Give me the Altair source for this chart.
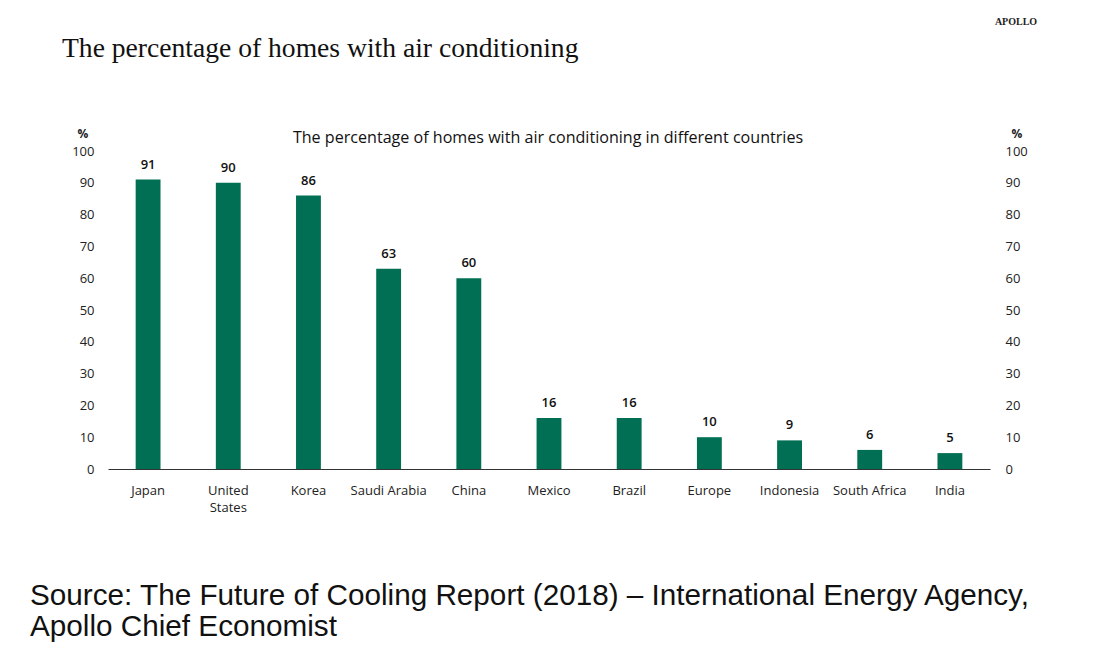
import altair as alt
import pandas as pd

countries = ["Japan", "United States", "Korea", "Saudi Arabia", "China", "Mexico",
             "Brazil", "Europe", "Indonesia", "South Africa", "India"]
values = [91, 90, 86, 63, 60, 16, 16, 10, 9, 6, 5]

main_title = "The percentage of homes with air conditioning"
inner_title = "The percentage of homes with air conditioning in different countries"
brand = "APOLLO"
source_lines = ["Source: The Future of Cooling Report (2018) \u2013 International Energy Agency,",
                "Apollo Chief Economist"]

df = pd.DataFrame({"country": countries, "value": values})

W, H = 882, 318
GREEN = "#006F53"
SANS = "Open Sans"

x_enc = alt.X("country:N", sort=countries, title=None,
              scale=alt.Scale(paddingInner=0.69, paddingOuter=0.345),
              axis=alt.Axis(labelAngle=0, ticks=False, domainColor="#333333", domainWidth=1.2,
                            labelFont=SANS, labelFontSize=13, labelColor="#222222",
                            labelPadding=15, labelLineHeight=17, grid=False,
                            labelExpr="datum.label == 'United States' ? ['United', 'States'] : datum.label"))

bars = alt.Chart(df).mark_bar(color=GREEN).encode(
    x=x_enc,
    y=alt.Y("value:Q", scale=alt.Scale(domain=[0, 100]), title=None,
            axis=alt.Axis(orient="left", values=list(range(0, 101, 10)), domain=False, ticks=False,
                          grid=False, labelFont=SANS, labelFontSize=13, labelColor="#222222",
                          labelPadding=14)),
)

labels = alt.Chart(df).mark_text(font=SANS, fontSize=13, fontWeight=600, color="#111111",
                                 baseline="bottom", dy=-8).encode(
    x=x_enc,
    y=alt.Y("value:Q", scale=alt.Scale(domain=[0, 100]), axis=None),
    text="value:Q",
)

right = alt.Chart(df).mark_point(opacity=0).encode(
    y=alt.Y("value:Q", scale=alt.Scale(domain=[0, 100]), title=None,
            axis=alt.Axis(orient="right", values=list(range(0, 101, 10)), domain=False, ticks=False,
                          grid=False, labelFont=SANS, labelFontSize=13, labelColor="#222222",
                          labelPadding=15)),
)

one = pd.DataFrame({"a": [0]})

def txt(text, x, y, **kw):
    return alt.Chart(one).mark_text(**kw).encode(
        x=alt.value(x), y=alt.value(y), text=alt.value(text))

t_main = txt(main_title, -46, -94, font="Liberation Serif", fontSize=27.6, align="left",
             baseline="alphabetic", color="#111111")
t_brand = txt(brand, 908, -126, font="Liberation Serif", fontSize=10, fontWeight="bold",
              align="center", baseline="alphabetic", color="#222222")
t_inner = txt(inner_title, W / 2 - 1, -8, font=SANS, fontSize=16.1, align="center",
              baseline="alphabetic", color="#111111")
t_pl = txt("%", -25, -13, font=SANS, fontSize=12, fontWeight="bold", align="center",
           baseline="alphabetic", color="#222222")
t_pr = txt("%", 909, -13, font=SANS, fontSize=12, fontWeight="bold", align="center",
           baseline="alphabetic", color="#222222")
t_src = txt(source_lines, -78, 454, font="Liberation Sans", fontSize=29.7, align="left",
            baseline="alphabetic", color="#111111", lineHeight=31)

chart = alt.layer(bars, labels, right, t_main, t_brand, t_inner, t_pl, t_pr, t_src).resolve_scale(
    y="independent"
).properties(
    width=W, height=H,
    background="white",
    autosize=alt.AutoSizeParams(type="none"),
    padding={"left": 108, "top": 151, "right": 114, "bottom": 193},
).configure_view(strokeWidth=0)

chart.save("out.html", embed_options={"renderer": "svg", "actions": False})
